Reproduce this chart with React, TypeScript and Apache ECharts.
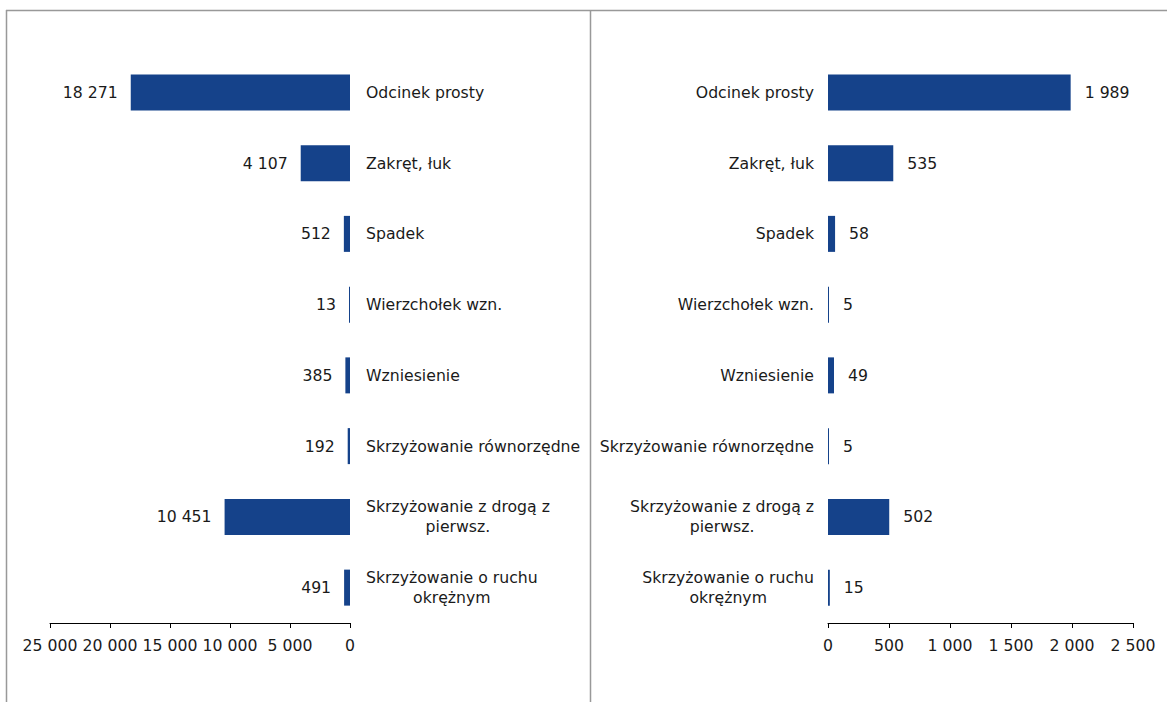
import React, { useEffect, useRef } from "react";
import * as echarts from "echarts";

const categories = [
  "Odcinek prosty",
  "Zakręt, łuk",
  "Spadek",
  "Wierzchołek wzn.",
  "Wzniesienie",
  "Skrzyżowanie równorzędne",
  "Skrzyżowanie z drogą z\npierwsz.",
  "Skrzyżowanie o ruchu\nokrężnym",
];
const leftValues = [18271, 4107, 512, 13, 385, 192, 10451, 491];
const rightValues = [1989, 535, 58, 5, 49, 5, 502, 15];
const leftTicks = [0, 5000, 10000, 15000, 20000, 25000];
const rightTicks = [0, 500, 1000, 1500, 2000, 2500];

const FONT = "'DejaVu Sans', Verdana, sans-serif";
const FS = 15.7;
const BAR = "#15428a";
const TXT = "#1a1a1a";

const fmt = (v: number) =>
  String(Math.round(v)).replace(/\B(?=(\d{3})+(?!\d))/g, " ");

const catLabel = (s: string) =>
  s
    .split("\n")
    .map((l) => `{c|${l}}`)
    .join("\n");

export default function App() {
  const ref = useRef<HTMLDivElement>(null);
  useEffect(() => {
    document.body.style.margin = "0";
    const chart = echarts.init(ref.current!, null, { renderer: "svg" });
    const rich = { c: { align: "center", fontFamily: FONT, fontSize: FS, color: TXT, lineHeight: 20 } };
    const xCommon = {
      type: "value" as const,
      min: 0,
      splitLine: { show: false },
      axisLine: { show: true, lineStyle: { color: "#000", width: 1 } },
      axisTick: { show: true, length: 5, lineStyle: { color: "#000" } },
      axisLabel: { fontFamily: FONT, fontSize: FS, color: TXT, margin: 14, formatter: fmt },
    };
    const yCommon = {
      type: "category" as const,
      data: categories,
      inverse: true,
      axisLine: { show: false },
      axisTick: { show: false },
    };
    chart.setOption({
      animation: false,
      backgroundColor: "#fff",
      textStyle: { fontFamily: FONT },
      grid: [
        { left: 50, width: 300, top: 57, height: 566 },
        { left: 828, width: 305, top: 57, height: 566 },
      ],
      xAxis: [
        { ...xCommon, gridIndex: 0, inverse: true, max: leftTicks[leftTicks.length - 1], interval: 5000 },
        { ...xCommon, gridIndex: 1, max: rightTicks[rightTicks.length - 1], interval: 500 },
      ],
      yAxis: [
        {
          ...yCommon,
          gridIndex: 0,
          position: "right",
          axisLabel: { align: "left", margin: 16, formatter: catLabel, rich },
        },
        {
          ...yCommon,
          gridIndex: 1,
          position: "left",
          axisLabel: { align: "right", margin: 14, formatter: catLabel, rich },
        },
      ],
      series: [
        {
          type: "bar",
          xAxisIndex: 0,
          yAxisIndex: 0,
          data: leftValues,
          barWidth: 36,
          barMinHeight: 1,
          itemStyle: { color: BAR },
          label: {
            show: true,
            position: "left",
            distance: 13,
            fontFamily: FONT,
            fontSize: FS,
            color: TXT,
            formatter: (p: any) => fmt(p.value),
          },
        },
        {
          type: "bar",
          xAxisIndex: 1,
          yAxisIndex: 1,
          data: rightValues,
          barWidth: 36,
          barMinHeight: 1,
          itemStyle: { color: BAR },
          label: {
            show: true,
            position: "right",
            distance: 14,
            fontFamily: FONT,
            fontSize: FS,
            color: TXT,
            formatter: (p: any) => fmt(p.value),
          },
        },
      ],
      graphic: [
        { type: "line", shape: { x1: 6, y1: 10.5, x2: 1167, y2: 10.5 }, style: { stroke: "#999", lineWidth: 1.5 } },
        { type: "line", shape: { x1: 6.5, y1: 10, x2: 6.5, y2: 702 }, style: { stroke: "#999", lineWidth: 1.5 } },
        { type: "line", shape: { x1: 590.5, y1: 10, x2: 590.5, y2: 702 }, style: { stroke: "#999", lineWidth: 1.5 } },
      ],
    });
    return () => chart.dispose();
  }, []);
  return <div ref={ref} style={{ width: 1167, height: 702 }} />;
}
